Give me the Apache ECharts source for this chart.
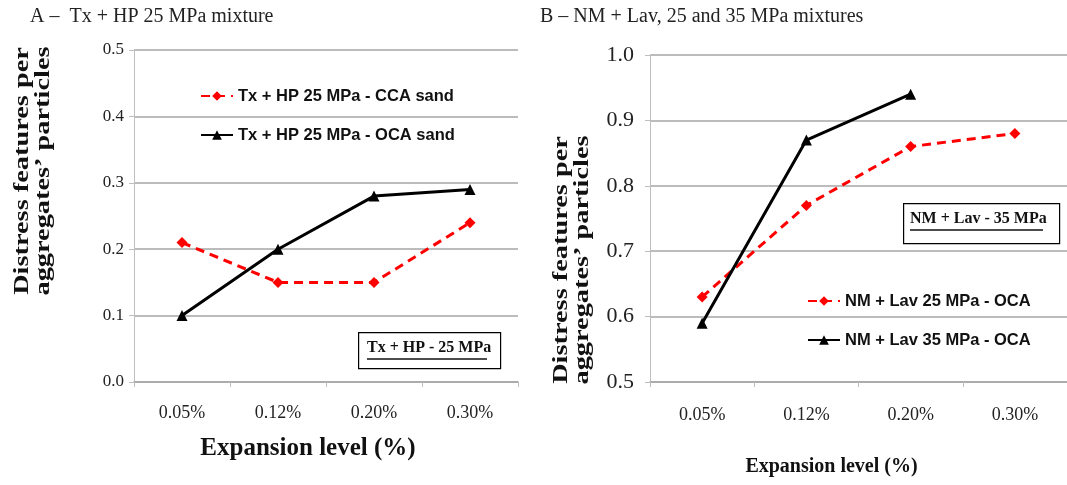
<!DOCTYPE html>
<html>
<head>
<meta charset="utf-8">
<script src="https://cdn.jsdelivr.net/npm/echarts@6/dist/echarts.min.js"></script>
<style>
html,body{margin:0;padding:0;background:#fff;}
#main{width:1067px;height:485px;}
</style>
</head>
<body>
<div id="main"></div>
<script>
// ---- data ----
const categories = ['0.05%', '0.12%', '0.20%', '0.30%'];
const seriesA_CCA = [0.21, 0.15, 0.15, 0.24];
const seriesA_OCA = [0.10, 0.20, 0.28, 0.29];
const seriesB_25 = [0.63, 0.77, 0.86, 0.88];
const seriesB_35 = [0.59, 0.87, 0.94, null];
const namesA = ['Tx + HP 25 MPa - CCA sand', 'Tx + HP 25 MPa - OCA sand'];
const namesB = ['NM + Lav 25 MPa - OCA', 'NM + Lav 35 MPa - OCA'];
const yRangeA = [0, 0.5, 0.1];
const yRangeB = [0.5, 1.0, 0.1];
const titleA = 'A \u2013  Tx + HP 25 MPa mixture';
const titleB = 'B \u2013 NM + Lav, 25 and 35 MPa mixtures';
const boxA = 'Tx + HP - 25 MPa';
const boxB = 'NM + Lav - 35 MPa';
const yName = 'Distress features per\naggregates\u2019 particles';
const xName = 'Expansion level (%)';

const serif = '"Liberation Serif", "DejaVu Serif", serif';
const sans = '"Liberation Sans", "Noto Sans", sans-serif';
const gridColor = '#a6a6a6';

const chart = echarts.init(document.getElementById('main'), null, {renderer: 'canvas'});

function yAxis(idx, range, fs, margin) {
  return {
    type: 'value', gridIndex: idx, min: range[0], max: range[1], interval: range[2],
    axisLine: {show: true, lineStyle: {color: '#bfbfbf', width: 1}},
    axisTick: {show: true, length: 5, lineStyle: {color: '#bfbfbf'}},
    splitLine: {show: true, lineStyle: {color: gridColor, width: 1.5}},
    axisLabel: {fontFamily: serif, fontSize: fs, color: '#222', margin: margin,
      formatter: v => v.toFixed(1)}
  };
}
function xAxis(idx, fs, margin, nfs, gap, pad) {
  return {
    type: 'category', gridIndex: idx, data: categories, boundaryGap: true,
    axisLine: {show: true, lineStyle: {color: gridColor, width: 1.5}},
    axisTick: {show: true, length: 5, lineStyle: {color: '#bfbfbf'}},
    axisLabel: {fontFamily: serif, fontSize: fs, color: '#222', margin: margin},
    name: xName, nameLocation: 'middle', nameGap: gap,
    nameTextStyle: {fontFamily: serif, fontWeight: 'bold', fontSize: nfs, color: '#111', padding: pad}
  };
}
function redSeries(name, data, xi) {
  return {name: name, type: 'line', xAxisIndex: xi, yAxisIndex: xi, data: data,
    symbol: 'diamond', symbolSize: 11, showSymbol: true,
    lineStyle: {color: '#ff0000', width: 3, type: [9, 6]},
    itemStyle: {color: '#ff0000'}};
}
function blackSeries(name, data, xi) {
  return {name: name, type: 'line', xAxisIndex: xi, yAxisIndex: xi, data: data,
    symbol: 'triangle', symbolSize: 11, showSymbol: true,
    lineStyle: {color: '#000', width: 3},
    itemStyle: {color: '#000'}};
}
function boxText(text, x, y, w, h, tx, ty, ulw) {
  return [
    {type: 'rect', left: x, top: y, shape: {width: w, height: h},
      style: {fill: '#fff', stroke: '#000', lineWidth: 1.2}},
    {type: 'text', left: tx, top: ty,
      style: {text: text, fontFamily: serif, fontWeight: 'bold', fontSize: 16, fill: '#111'}},
    {type: 'line', shape: {x1: tx, y1: ty + 19, x2: tx + ulw, y2: ty + 19},
      style: {stroke: '#111', lineWidth: 1.5}}
  ];
}
function yTitle(cx, cy) {
  return {type: 'text', x: cx, y: cy, rotation: Math.PI / 2, scaleX: 1.35, scaleY: 1,
    style: {text: yName, fontFamily: serif, fontWeight: 'bold', fontSize: 21, lineHeight: 21,
      fill: '#111', align: 'center', verticalAlign: 'middle'}};
}

const option = {
  backgroundColor: '#fff',
  animation: false,
  grid: [
    {left: 134, top: 50, width: 384, height: 332},
    {left: 650, top: 55, width: 418, height: 327}
  ],
  xAxis: [xAxis(0, 18, 22, 25, 54, [0, 36, 0, 0]), xAxis(1, 18, 24, 20, 75, [0, 54, 0, 0])],
  yAxis: [yAxis(0, yRangeA, 17, 10), yAxis(1, yRangeB, 22, 16)],
  legend: [
    {data: namesA, orient: 'vertical', left: 200, top: 86, padding: 0, itemWidth: 32, itemHeight: 12, itemGap: 19,
      textStyle: {fontFamily: sans, fontWeight: 'bold', fontSize: 16.5, lineHeight: 20, color: '#111'}},
    {data: namesB, orient: 'vertical', left: 807, top: 291, padding: 0, itemWidth: 32, itemHeight: 12, itemGap: 19,
      textStyle: {fontFamily: sans, fontWeight: 'bold', fontSize: 16.5, lineHeight: 20, color: '#111'}}
  ],
  series: [
    redSeries(namesA[0], seriesA_CCA, 0),
    blackSeries(namesA[1], seriesA_OCA, 0),
    redSeries(namesB[0], seriesB_25, 1),
    blackSeries(namesB[1], seriesB_35, 1)
  ],
  graphic: [
    {type: 'text', left: 30, top: 7, style: {text: titleA, fontFamily: serif, fontSize: 20, fill: '#222'}},
    {type: 'text', left: 540, top: 7, style: {text: titleB, fontFamily: serif, fontSize: 20, fill: '#222'}},
    yTitle(33, 171),
    yTitle(572, 260)
  ].concat(boxText(boxA, 358, 332, 142, 36, 367, 340, 120))
   .concat(boxText(boxB, 903, 203, 156, 40, 910, 211, 133))
};
chart.setOption(option);
</script>
</body>
</html>
